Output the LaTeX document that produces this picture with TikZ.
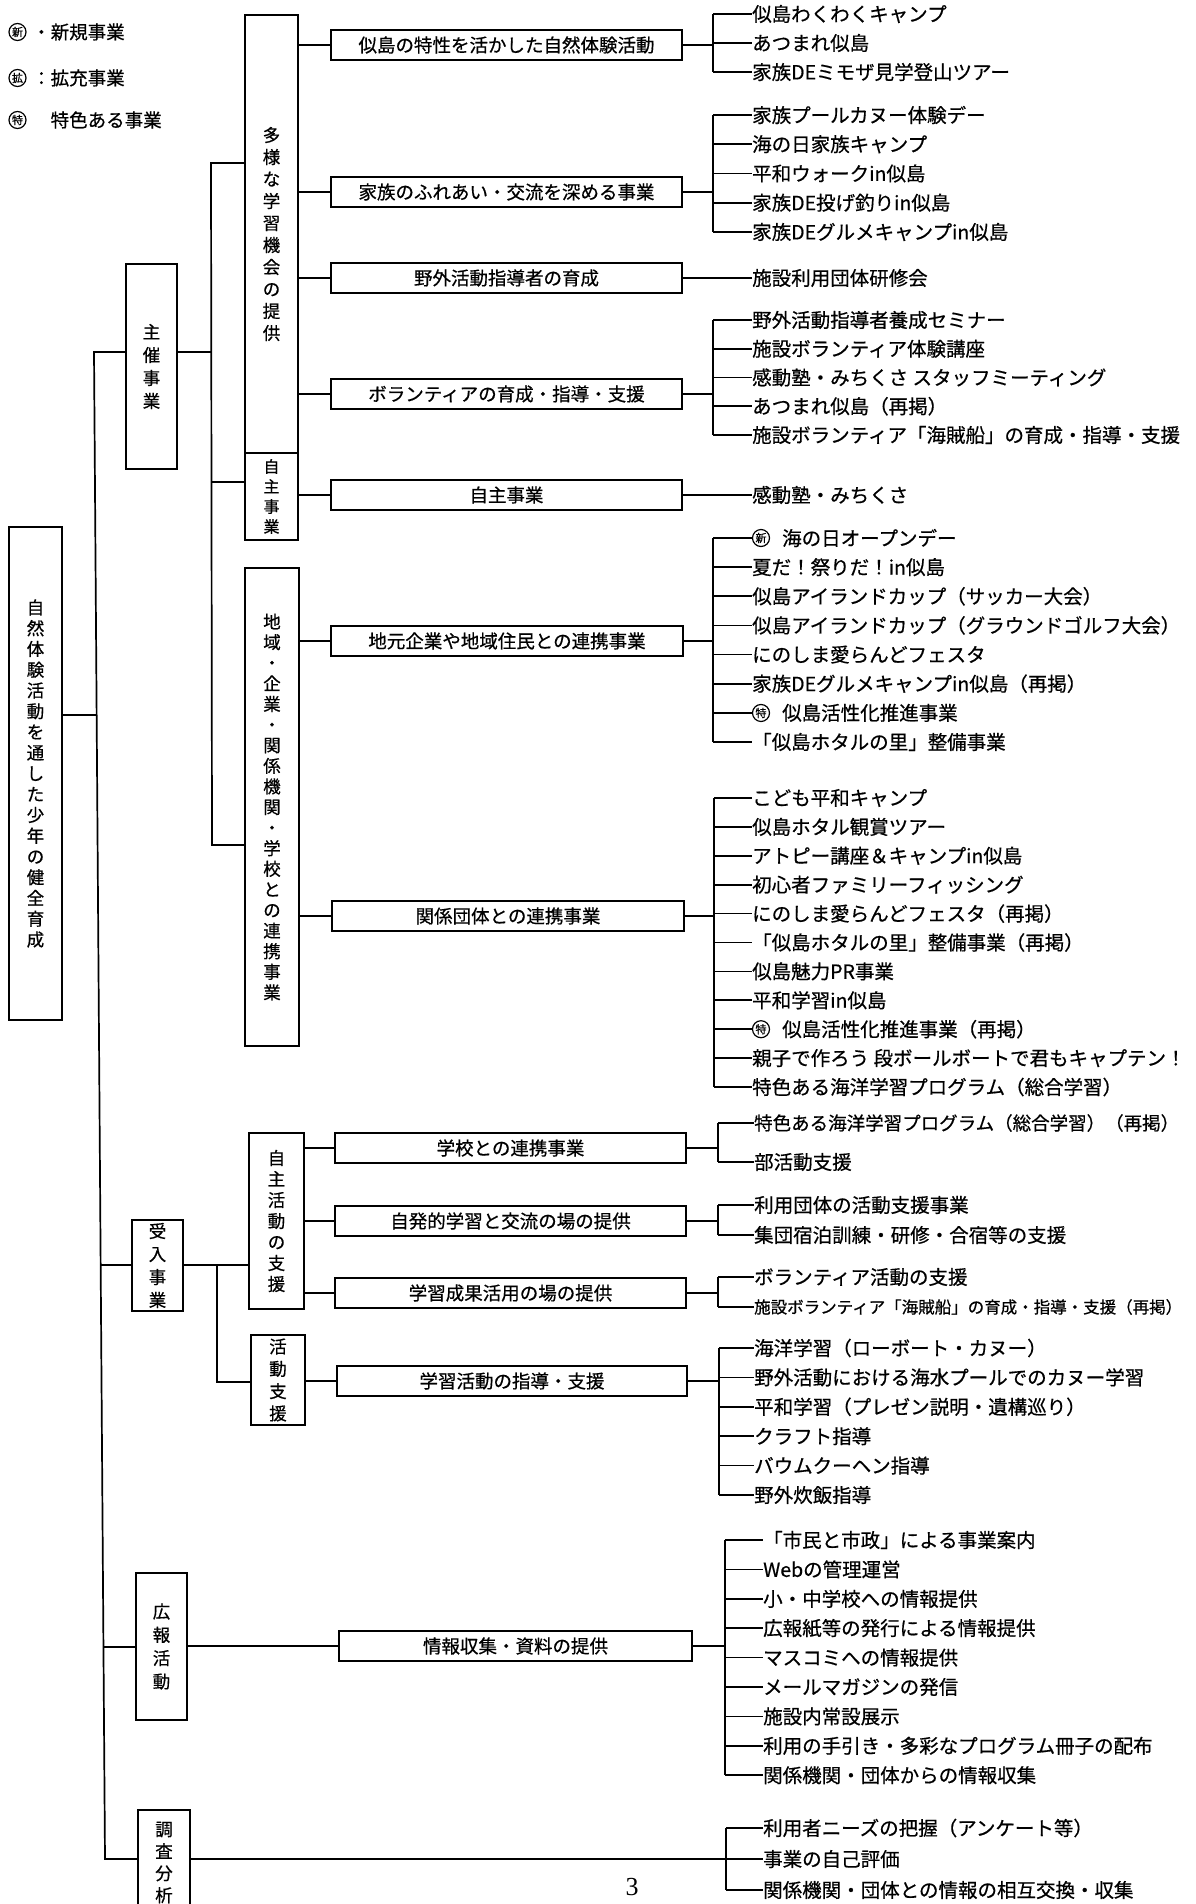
\documentclass[tikz,border=0pt]{standalone}
\usepackage{fontspec}
\setmainfont{Noto Sans CJK JP}[FakeBold=0.6]
\newfontfamily\numfont{Liberation Serif}
\newcommand\itemgroup[5]{%
  \foreach \txt [count=\kk] in {#5}{
    \node[it] (#1-\kk) at (#2,{#3+(\kk-1)*#4}) {\txt};
    \draw[ln] (#1-\kk.west -| #1b) -- (#1-\kk.west);
  }%
}
\begin{document}
\begin{tikzpicture}[x=1pt,y=-1pt,
  ln/.style={line width=1.7pt},
  bx/.style={draw,line width=1.7pt,inner sep=0pt,align=center},
  vb/.style={bx,font=\fontsize{17.5}{#1}\selectfont},
  mb/.style={bx,minimum height=30pt,font=\fontsize{18.5}{20}\selectfont},
  it/.style={anchor=west,inner sep=0pt,font=\fontsize{19.5}{21}\selectfont},
  mk/.style={circle,draw,line width=1.2pt,inner sep=0pt,minimum size=17pt,font=\fontsize{11}{11}\selectfont},
  lg/.style={anchor=west,inner sep=0pt,font=\fontsize{18.5}{20}\selectfont}]
\fill[white] (0,0) rectangle (1195,1904);
\useasboundingbox (0,0) rectangle (1195,1904);

% legend
\node[mk] (lgm1) at (17.5,32) {新}; \node[lg] (lgt1) at (32,32) {・新規事業};
\node[mk] (lgm2) at (17.5,78) {拡}; \node[lg] (lgt2) at (32,78) {：拡充事業};
\node[mk] (lgm3) at (17.5,120) {特}; \node[lg] (lgt3) at (32,120) {　特色ある事業};

% level boxes
\node[vb=20.75,minimum width=53pt,minimum height=493pt] (root) at (35.5,773.5) {自\\然\\体\\験\\活\\動\\を\\通\\し\\た\\少\\年\\の\\健\\全\\育\\成};
\node[vb=23,minimum width=51pt,minimum height=205pt] (shu) at (151.5,366.5) {主\\催\\事\\業};
\node[vb=23,minimum width=51pt,minimum height=91pt] (uke) at (157.5,1265.5) {受\\入\\事\\業};
\node[vb=23.3,minimum width=51pt,minimum height=147pt] (koho) at (161.5,1646.5) {広\\報\\活\\動};
\node[vb=22,minimum width=52pt,minimum height=105pt] (chosa) at (164,1862.5) {調\\査\\分\\析};

\node[vb=22,minimum width=53pt,minimum height=438pt] (tayo) at (271.5,234) {多\\様\\な\\学\\習\\機\\会\\の\\提\\供};
\node[vb=20,minimum width=53pt,minimum height=87pt,font=\fontsize{16}{20}\selectfont] (jishu) at (271.5,496.5) {自\\主\\事\\業};
\node[vb=20.6,minimum width=54pt,minimum height=478pt] (chiiki) at (272,807) {地\\域\\・\\企\\業\\・\\関\\係\\機\\関\\・\\学\\校\\と\\の\\連\\携\\事\\業};
\node[vb=21,minimum width=55pt,minimum height=176pt] (jikatsu) at (276.5,1221) {自\\主\\活\\動\\の\\支\\援};
\node[vb=22.3,minimum width=54pt,minimum height=90pt] (katsu) at (278,1380) {活\\動\\支\\援};

% middle boxes
\node[mb,minimum width=351pt] (m1) at (506.5,45) {似島の特性を活かした自然体験活動};
\node[mb,minimum width=351pt] (m2) at (506.5,192) {家族のふれあい・交流を深める事業};
\node[mb,minimum width=351pt] (m3) at (506.5,278) {野外活動指導者の育成};
\node[mb,minimum width=351pt] (m4) at (506.5,394) {ボランティアの育成・指導・支援};
\node[mb,minimum width=351pt] (m5) at (506.5,495) {自主事業};
\node[mb,minimum width=352pt] (m6) at (507,641) {地元企業や地域住民との連携事業};
\node[mb,minimum width=352pt] (m7) at (508,916) {関係団体との連携事業};
\node[mb,minimum width=351pt] (m8) at (510.5,1148) {学校との連携事業};
\node[mb,minimum width=351pt] (m9) at (510.5,1221) {自発的学習と交流の場の提供};
\node[mb,minimum width=351pt] (m10) at (510.5,1293) {学習成果活用の場の提供};
\node[mb,minimum width=350pt] (m11) at (512,1381) {学習活動の指導・支援};
\node[mb,minimum width=353pt] (m12) at (515.5,1646) {情報収集・資料の提供};

% trunk
\coordinate (tshu) at (94,352);
\coordinate (troot) at (96.6,715);
\coordinate (tuke) at (100.7,1265);
\coordinate (tkoho) at (103.4,1647);
\coordinate (tchosa) at (105,1859);
\draw[ln] (shu.west |- tshu) -- (tshu) -- (tchosa) -- (chosa.west |- tchosa);
\draw[ln] (root.east |- troot) -- (troot);
\draw[ln] (tuke) -- (uke.west |- tuke);
\draw[ln] (tkoho) -- (koho.west |- tkoho);

% sub trunk (shusai)
\coordinate (stop) at (211,163);
\coordinate (sshu) at (211,352);
\coordinate (sji) at (211,482);
\coordinate (sbot) at (212,845);
\draw[ln] (tayo.west |- stop) -- (stop) -- (sbot) -- (chiiki.west |- sbot);
\draw[ln] (shu.east |- sshu) -- (sshu);
\draw[ln] (sji) -- (jishu.west |- sji);

% sub trunk (ukeire)
\coordinate (utop) at (217,1265);
\coordinate (ubot) at (217,1382);
\draw[ln] (uke.east |- utop) -- (utop) -- (jikatsu.west |- utop);
\draw[ln] (utop) -- (ubot) -- (katsu.west |- ubot);

% level3 -> middle
\foreach \m in {m1,m2,m3,m4} {\draw[ln] (tayo.east |- \m.west) -- (\m.west);}
\draw[ln] (jishu.east |- m5.west) -- (m5.west);
\foreach \m in {m6,m7} {\draw[ln] (chiiki.east |- \m.west) -- (\m.west);}
\foreach \m in {m8,m9,m10} {\draw[ln] (jikatsu.east |- \m.west) -- (\m.west);}
\draw[ln] (katsu.east |- m11.west) -- (m11.west);
\draw[ln] (koho.east |- m12.west) -- (m12.west);

% bracket points
\coordinate (g1b) at (713,45);
\coordinate (g2b) at (713,192);
\coordinate (g4b) at (713,394);
\coordinate (g6b) at (713,641);
\coordinate (g7b) at (714,916);
\coordinate (g8b) at (718,1148);
\coordinate (g9b) at (718,1221);
\coordinate (g10b) at (718,1293);
\coordinate (g11b) at (719,1381);
\coordinate (g12b) at (725,1646);
\coordinate (g13b) at (726,1859);

\foreach \m/\g in {m1/g1b,m2/g2b,m4/g4b,m6/g6b,m7/g7b,m8/g8b,m9/g9b,m10/g10b,m11/g11b,m12/g12b} {\draw[ln] (\m.east) -- (\g);}
\draw[ln] (chosa.east |- tchosa) -- (g13b);

% items
\itemgroup{g1}{752}{14}{29}{似島わくわくキャンプ,あつまれ似島,家族DEミモザ見学登山ツアー}
\draw[ln] (g1b |- g1-1.west) -- (g1b |- g1-3.west);
\itemgroup{g2}{752}{115}{29.25}{家族プールカヌー体験デー,海の日家族キャンプ,平和ウォークin似島,家族DE投げ釣りin似島,家族DEグルメキャンプin似島}
\draw[ln] (g2b |- g2-1.west) -- (g2b |- g2-5.west);
\node[it] (g3) at (752,278) {施設利用団体研修会};
\draw[ln] (m3.east) -- (g3.west);
\itemgroup{g4}{752}{320}{28.75}{野外活動指導者養成セミナー,施設ボランティア体験講座,感動塾・みちくさ スタッフミーティング,あつまれ似島（再掲）,施設ボランティア「海賊船」の育成・指導・支援}
\draw[ln] (g4b |- g4-1.west) -- (g4b |- g4-5.west);
\node[it] (g5) at (752,495) {感動塾・みちくさ};
\draw[ln] (m5.east) -- (g5.west);
\itemgroup{g6}{752}{538}{29.14}{\hspace*{30pt}海の日オープンデー,夏だ！祭りだ！in似島,似島アイランドカップ（サッカー大会）,似島アイランドカップ（グラウンドゴルフ大会）,にのしま愛らんどフェスタ,家族DEグルメキャンプin似島（再掲）,\hspace*{30pt}似島活性化推進事業,「似島ホタルの里」整備事業}
\draw[ln] (g6b |- g6-1.west) -- (g6b |- g6-8.west);
\node[mk] (mk1) at (761,538) {新};
\node[mk] (mk2) at (761,712.98) {特};
\itemgroup{g7}{752}{798}{28.9}{こども平和キャンプ,似島ホタル観賞ツアー,アトピー講座＆キャンプin似島,初心者ファミリーフィッシング,にのしま愛らんどフェスタ（再掲）,「似島ホタルの里」整備事業（再掲）,似島魅力PR事業,平和学習in似島,\hspace*{30pt}似島活性化推進事業（再掲）,親子で作ろう 段ボールボートで君もキャプテン！,特色ある海洋学習プログラム（総合学習）}
\draw[ln] (g7b |- g7-1.west) -- (g7b |- g7-11.west);
\node[mk] (mk3) at (761,1029.2) {特};
\itemgroup{g8}{754}{1123}{39}{{\fontsize{18.5}{20}\selectfont 特色ある海洋学習プログラム（総合学習）（再掲）},部活動支援}
\draw[ln] (g8b |- g8-1.west) -- (g8b |- g8-2.west);
\itemgroup{g9}{754}{1205}{30}{利用団体の活動支援事業,集団宿泊訓練・研修・合宿等の支援}
\draw[ln] (g9b |- g9-1.west) -- (g9b |- g9-2.west);
\itemgroup{g10}{754}{1277}{30}{ボランティア活動の支援,{\fontsize{16.5}{18}\selectfont 施設ボランティア「海賊船」の育成・指導・支援（再掲）}}
\draw[ln] (g10b |- g10-1.west) -- (g10b |- g10-2.west);
\itemgroup{g11}{754}{1348}{29.4}{海洋学習（ローボート・カヌー）,野外活動における海水プールでのカヌー学習,平和学習（プレゼン説明・遺構巡り）,クラフト指導,バウムクーヘン指導,野外炊飯指導}
\draw[ln] (g11b |- g11-1.west) -- (g11b |- g11-6.west);
\itemgroup{g12}{763}{1540}{29.4}{「市民と市政」による事業案内,Webの管理運営,小・中学校への情報提供,広報紙等の発行による情報提供,マスコミへの情報提供,メールマガジンの発信,施設内常設展示,利用の手引き・多彩なプログラム冊子の配布,関係機関・団体からの情報収集}
\draw[ln] (g12b |- g12-1.west) -- (g12b |- g12-9.west);
\itemgroup{g13}{763}{1828}{31}{利用者ニーズの把握（アンケート等）,事業の自己評価,関係機関・団体との情報の相互交換・収集}
\draw[ln] (g13b |- g13-1.west) -- (g13b |- g13-3.west);

% page number
\node[inner sep=0pt,font=\numfont\fontsize{26}{26}\selectfont] (pg) at (632,1887) {3};
\end{tikzpicture}
\end{document}
